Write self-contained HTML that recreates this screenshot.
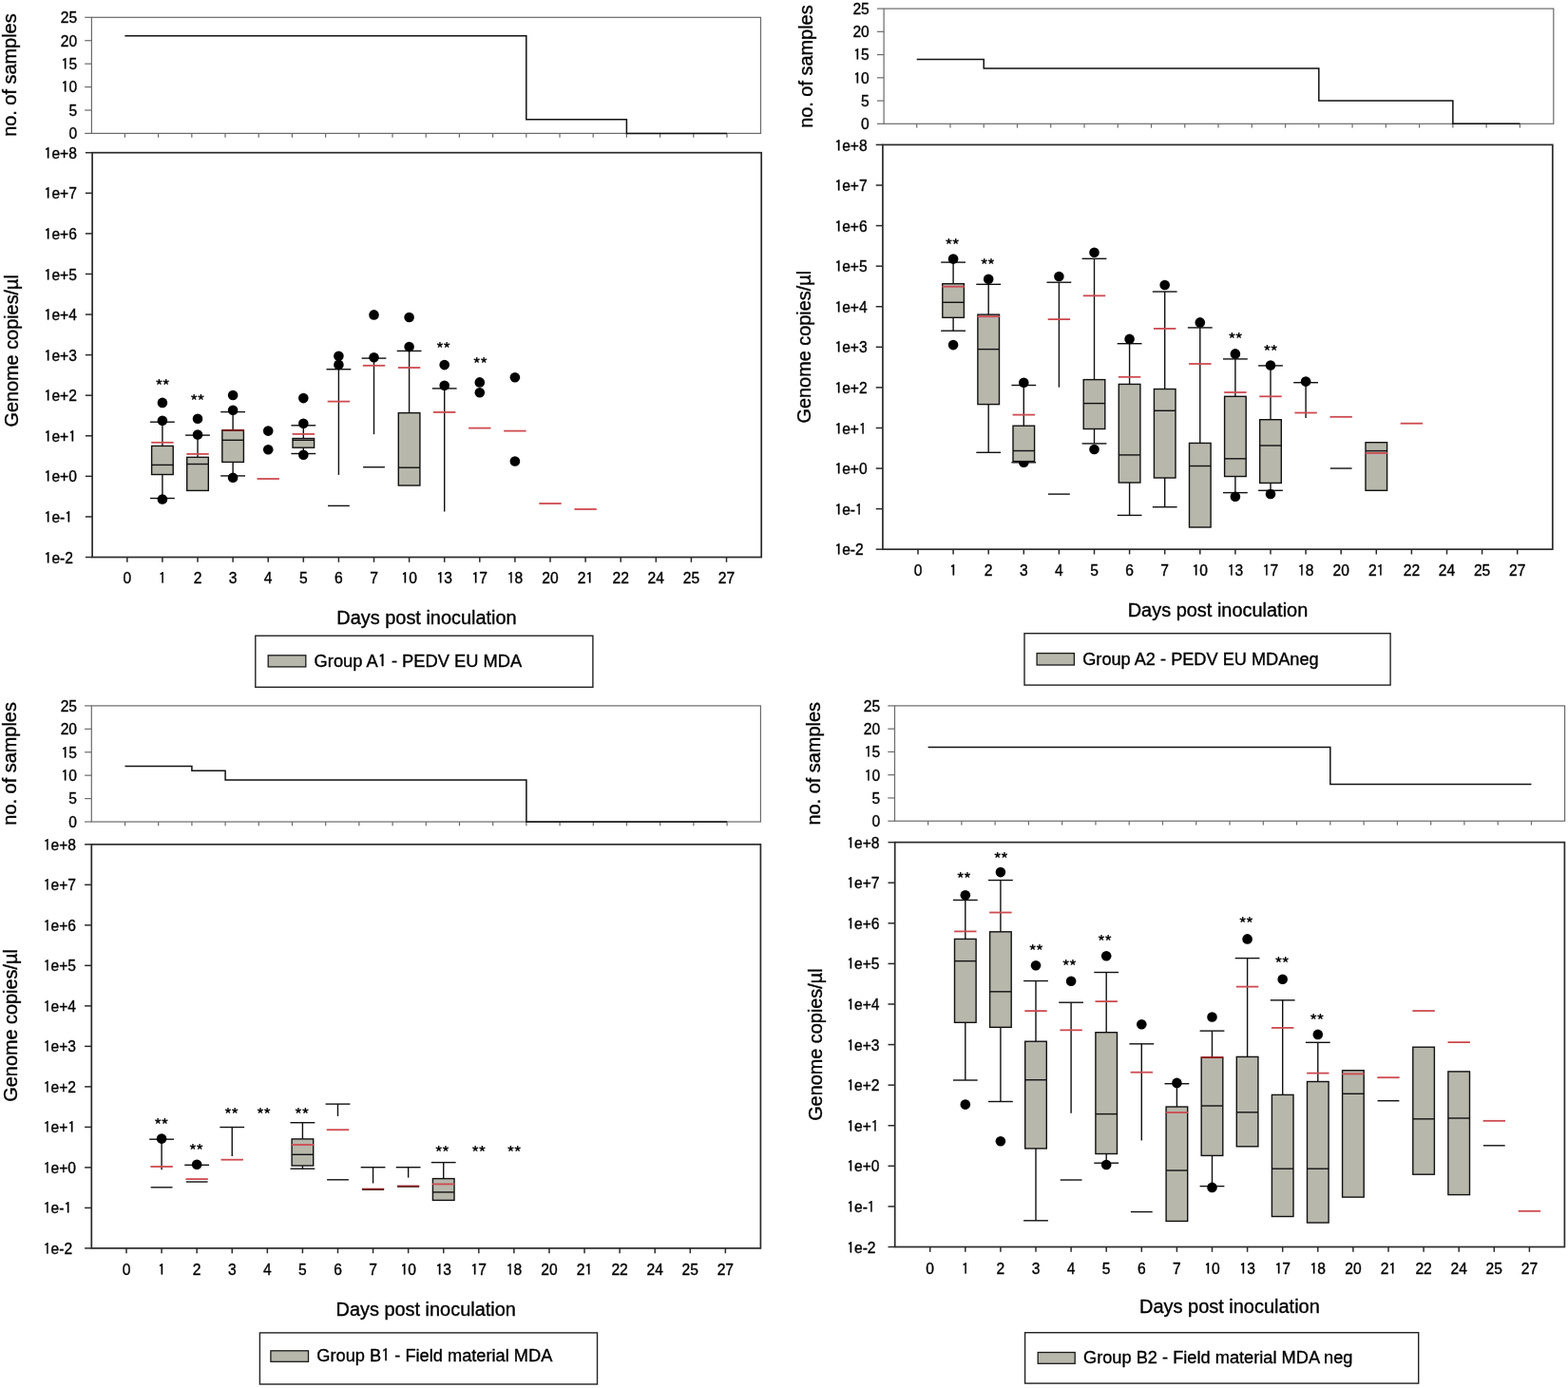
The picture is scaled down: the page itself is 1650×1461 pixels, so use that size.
<!DOCTYPE html>
<html><head><meta charset="utf-8"><title>PEDV genome copies</title>
<style>html,body{margin:0;padding:0;background:#fff;} svg{display:block;} text{font-family:'Liberation Sans', Arial, sans-serif;fill:#000;stroke:#000;stroke-width:0.35px;} .o{font-family:IPAGothic,'Liberation Sans',sans-serif;} .st{font-family:'Noto Sans CJK JP','Liberation Sans',sans-serif;letter-spacing:-1.1px;stroke-width:0.25px;}</style>
</head><body>
<svg width="1650" height="1461" viewBox="0 0 1650 1461">
<rect width="1650" height="1461" fill="#fff"/>
<rect x="96.4" y="18.3" width="704.1" height="122.1" fill="none" stroke="#6a6a6a" stroke-width="1.2"/>
<line x1="89.2" y1="140.4" x2="96.4" y2="140.4" stroke="#6a6a6a" stroke-width="1.2"/>
<text x="81.1" y="146.3" font-size="15.6" text-anchor="end" >0</text>
<line x1="89.2" y1="115.98" x2="96.4" y2="115.98" stroke="#6a6a6a" stroke-width="1.2"/>
<text x="81.1" y="121.88" font-size="15.6" text-anchor="end" >5</text>
<line x1="89.2" y1="91.56" x2="96.4" y2="91.56" stroke="#6a6a6a" stroke-width="1.2"/>
<text x="81.1" y="97.46" font-size="15.6" text-anchor="end" ><tspan class="o">1</tspan>0</text>
<line x1="89.2" y1="67.14" x2="96.4" y2="67.14" stroke="#6a6a6a" stroke-width="1.2"/>
<text x="81.1" y="73.04" font-size="15.6" text-anchor="end" ><tspan class="o">1</tspan>5</text>
<line x1="89.2" y1="42.72" x2="96.4" y2="42.72" stroke="#6a6a6a" stroke-width="1.2"/>
<text x="81.1" y="48.62" font-size="15.6" text-anchor="end" >20</text>
<line x1="89.2" y1="18.3" x2="96.4" y2="18.3" stroke="#6a6a6a" stroke-width="1.2"/>
<text x="81.1" y="24.2" font-size="15.6" text-anchor="end" >25</text>
<line x1="131.4" y1="140.4" x2="131.4" y2="144.7" stroke="#6a6a6a" stroke-width="1.2"/>
<line x1="166.6" y1="140.4" x2="166.6" y2="144.7" stroke="#6a6a6a" stroke-width="1.2"/>
<line x1="201.8" y1="140.4" x2="201.8" y2="144.7" stroke="#6a6a6a" stroke-width="1.2"/>
<line x1="237" y1="140.4" x2="237" y2="144.7" stroke="#6a6a6a" stroke-width="1.2"/>
<line x1="272.2" y1="140.4" x2="272.2" y2="144.7" stroke="#6a6a6a" stroke-width="1.2"/>
<line x1="307.4" y1="140.4" x2="307.4" y2="144.7" stroke="#6a6a6a" stroke-width="1.2"/>
<line x1="342.6" y1="140.4" x2="342.6" y2="144.7" stroke="#6a6a6a" stroke-width="1.2"/>
<line x1="377.8" y1="140.4" x2="377.8" y2="144.7" stroke="#6a6a6a" stroke-width="1.2"/>
<line x1="413" y1="140.4" x2="413" y2="144.7" stroke="#6a6a6a" stroke-width="1.2"/>
<line x1="448.2" y1="140.4" x2="448.2" y2="144.7" stroke="#6a6a6a" stroke-width="1.2"/>
<line x1="483.4" y1="140.4" x2="483.4" y2="144.7" stroke="#6a6a6a" stroke-width="1.2"/>
<line x1="518.6" y1="140.4" x2="518.6" y2="144.7" stroke="#6a6a6a" stroke-width="1.2"/>
<line x1="553.8" y1="140.4" x2="553.8" y2="144.7" stroke="#6a6a6a" stroke-width="1.2"/>
<line x1="589" y1="140.4" x2="589" y2="144.7" stroke="#6a6a6a" stroke-width="1.2"/>
<line x1="624.2" y1="140.4" x2="624.2" y2="144.7" stroke="#6a6a6a" stroke-width="1.2"/>
<line x1="659.4" y1="140.4" x2="659.4" y2="144.7" stroke="#6a6a6a" stroke-width="1.2"/>
<line x1="694.6" y1="140.4" x2="694.6" y2="144.7" stroke="#6a6a6a" stroke-width="1.2"/>
<line x1="729.8" y1="140.4" x2="729.8" y2="144.7" stroke="#6a6a6a" stroke-width="1.2"/>
<line x1="765" y1="140.4" x2="765" y2="144.7" stroke="#6a6a6a" stroke-width="1.2"/>
<path d="M131.4,37.84 L553.8,37.84 L553.8,125.75 L659.4,125.75 L659.4,140.4 L765,140.4" fill="none" stroke="#111" stroke-width="1.5"/>
<text transform="translate(17.25,79.1) rotate(-90)" font-size="19.5" text-anchor="middle" textLength="129.5" lengthAdjust="spacingAndGlyphs">no. of samples</text>
<rect x="97.1" y="160.7" width="704.1" height="425.8" fill="none" stroke="#2a2a2a" stroke-width="1.7"/>
<line x1="89.9" y1="160.7" x2="97.1" y2="160.7" stroke="#2a2a2a" stroke-width="1.5"/>
<text x="46.6" y="166.8" font-size="15.6" text-anchor="start" ><tspan class="o">1</tspan>e+8</text>
<line x1="89.9" y1="203.28" x2="97.1" y2="203.28" stroke="#2a2a2a" stroke-width="1.5"/>
<text x="46.6" y="209.38" font-size="15.6" text-anchor="start" ><tspan class="o">1</tspan>e+7</text>
<line x1="89.9" y1="245.86" x2="97.1" y2="245.86" stroke="#2a2a2a" stroke-width="1.5"/>
<text x="46.6" y="251.96" font-size="15.6" text-anchor="start" ><tspan class="o">1</tspan>e+6</text>
<line x1="89.9" y1="288.44" x2="97.1" y2="288.44" stroke="#2a2a2a" stroke-width="1.5"/>
<text x="46.6" y="294.54" font-size="15.6" text-anchor="start" ><tspan class="o">1</tspan>e+5</text>
<line x1="89.9" y1="331.02" x2="97.1" y2="331.02" stroke="#2a2a2a" stroke-width="1.5"/>
<text x="46.6" y="337.12" font-size="15.6" text-anchor="start" ><tspan class="o">1</tspan>e+4</text>
<line x1="89.9" y1="373.6" x2="97.1" y2="373.6" stroke="#2a2a2a" stroke-width="1.5"/>
<text x="46.6" y="379.7" font-size="15.6" text-anchor="start" ><tspan class="o">1</tspan>e+3</text>
<line x1="89.9" y1="416.18" x2="97.1" y2="416.18" stroke="#2a2a2a" stroke-width="1.5"/>
<text x="46.6" y="422.28" font-size="15.6" text-anchor="start" ><tspan class="o">1</tspan>e+2</text>
<line x1="89.9" y1="458.76" x2="97.1" y2="458.76" stroke="#2a2a2a" stroke-width="1.5"/>
<text x="46.6" y="464.86" font-size="15.6" text-anchor="start" ><tspan class="o">1</tspan>e+<tspan class="o">1</tspan></text>
<line x1="89.9" y1="501.34" x2="97.1" y2="501.34" stroke="#2a2a2a" stroke-width="1.5"/>
<text x="46.6" y="507.44" font-size="15.6" text-anchor="start" ><tspan class="o">1</tspan>e+0</text>
<line x1="89.9" y1="543.92" x2="97.1" y2="543.92" stroke="#2a2a2a" stroke-width="1.5"/>
<text x="46.6" y="550.02" font-size="15.6" text-anchor="start" ><tspan class="o">1</tspan>e-<tspan class="o">1</tspan></text>
<line x1="89.9" y1="586.5" x2="97.1" y2="586.5" stroke="#2a2a2a" stroke-width="1.5"/>
<text x="46.6" y="592.6" font-size="15.6" text-anchor="start" ><tspan class="o">1</tspan>e-2</text>
<line x1="133.8" y1="586.5" x2="133.8" y2="591.8" stroke="#2a2a2a" stroke-width="1.5"/>
<text x="133.8" y="613.6" font-size="15.6" text-anchor="middle" >0</text>
<line x1="170.9" y1="586.5" x2="170.9" y2="591.8" stroke="#2a2a2a" stroke-width="1.5"/>
<text x="170.9" y="613.6" font-size="15.6" text-anchor="middle" ><tspan class="o">1</tspan></text>
<line x1="208" y1="586.5" x2="208" y2="591.8" stroke="#2a2a2a" stroke-width="1.5"/>
<text x="208" y="613.6" font-size="15.6" text-anchor="middle" >2</text>
<line x1="245.1" y1="586.5" x2="245.1" y2="591.8" stroke="#2a2a2a" stroke-width="1.5"/>
<text x="245.1" y="613.6" font-size="15.6" text-anchor="middle" >3</text>
<line x1="282.2" y1="586.5" x2="282.2" y2="591.8" stroke="#2a2a2a" stroke-width="1.5"/>
<text x="282.2" y="613.6" font-size="15.6" text-anchor="middle" >4</text>
<line x1="319.3" y1="586.5" x2="319.3" y2="591.8" stroke="#2a2a2a" stroke-width="1.5"/>
<text x="319.3" y="613.6" font-size="15.6" text-anchor="middle" >5</text>
<line x1="356.4" y1="586.5" x2="356.4" y2="591.8" stroke="#2a2a2a" stroke-width="1.5"/>
<text x="356.4" y="613.6" font-size="15.6" text-anchor="middle" >6</text>
<line x1="393.5" y1="586.5" x2="393.5" y2="591.8" stroke="#2a2a2a" stroke-width="1.5"/>
<text x="393.5" y="613.6" font-size="15.6" text-anchor="middle" >7</text>
<line x1="430.6" y1="586.5" x2="430.6" y2="591.8" stroke="#2a2a2a" stroke-width="1.5"/>
<text x="430.6" y="613.6" font-size="15.6" text-anchor="middle" ><tspan class="o">1</tspan>0</text>
<line x1="467.7" y1="586.5" x2="467.7" y2="591.8" stroke="#2a2a2a" stroke-width="1.5"/>
<text x="467.7" y="613.6" font-size="15.6" text-anchor="middle" ><tspan class="o">1</tspan>3</text>
<line x1="504.8" y1="586.5" x2="504.8" y2="591.8" stroke="#2a2a2a" stroke-width="1.5"/>
<text x="504.8" y="613.6" font-size="15.6" text-anchor="middle" ><tspan class="o">1</tspan>7</text>
<line x1="541.9" y1="586.5" x2="541.9" y2="591.8" stroke="#2a2a2a" stroke-width="1.5"/>
<text x="541.9" y="613.6" font-size="15.6" text-anchor="middle" ><tspan class="o">1</tspan>8</text>
<line x1="579" y1="586.5" x2="579" y2="591.8" stroke="#2a2a2a" stroke-width="1.5"/>
<text x="579" y="613.6" font-size="15.6" text-anchor="middle" >20</text>
<line x1="616.1" y1="586.5" x2="616.1" y2="591.8" stroke="#2a2a2a" stroke-width="1.5"/>
<text x="616.1" y="613.6" font-size="15.6" text-anchor="middle" >2<tspan class="o">1</tspan></text>
<line x1="653.2" y1="586.5" x2="653.2" y2="591.8" stroke="#2a2a2a" stroke-width="1.5"/>
<text x="653.2" y="613.6" font-size="15.6" text-anchor="middle" >22</text>
<line x1="690.3" y1="586.5" x2="690.3" y2="591.8" stroke="#2a2a2a" stroke-width="1.5"/>
<text x="690.3" y="613.6" font-size="15.6" text-anchor="middle" >24</text>
<line x1="727.4" y1="586.5" x2="727.4" y2="591.8" stroke="#2a2a2a" stroke-width="1.5"/>
<text x="727.4" y="613.6" font-size="15.6" text-anchor="middle" >25</text>
<line x1="764.5" y1="586.5" x2="764.5" y2="591.8" stroke="#2a2a2a" stroke-width="1.5"/>
<text x="764.5" y="613.6" font-size="15.6" text-anchor="middle" >27</text>
<text transform="translate(19,369.3) rotate(-90)" font-size="19.5" text-anchor="middle" textLength="160.5" lengthAdjust="spacingAndGlyphs">Genome copies/µl</text>
<text x="354.3" y="656.5" font-size="19.5" textLength="189.4" lengthAdjust="spacingAndGlyphs">Days post inoculation</text>
<rect x="268.8" y="669.2" width="355.1" height="54.1" fill="none" stroke="#222" stroke-width="1.4"/>
<rect x="282.2" y="689.8" width="39.6" height="12.1" fill="#b7b7ac" stroke="#1a1a1a" stroke-width="1.3"/>
<text x="330.6" y="702.2" font-size="18" textLength="218.5" lengthAdjust="spacingAndGlyphs">Group A<tspan class="o">1</tspan> - PEDV EU MDA</text>
<line x1="170.9" y1="444.2" x2="170.9" y2="469.4" stroke="#111" stroke-width="1.4"/>
<line x1="170.9" y1="499.5" x2="170.9" y2="524.5" stroke="#111" stroke-width="1.4"/>
<line x1="208" y1="458.1" x2="208" y2="481.3" stroke="#111" stroke-width="1.4"/>
<line x1="245.1" y1="433.6" x2="245.1" y2="452.8" stroke="#111" stroke-width="1.4"/>
<line x1="245.1" y1="486.4" x2="245.1" y2="500.9" stroke="#111" stroke-width="1.4"/>
<line x1="319.3" y1="447.8" x2="319.3" y2="461.5" stroke="#111" stroke-width="1.4"/>
<line x1="319.3" y1="471.2" x2="319.3" y2="477.5" stroke="#111" stroke-width="1.4"/>
<line x1="356.4" y1="388.7" x2="356.4" y2="499.9" stroke="#111" stroke-width="1.4"/>
<line x1="393.5" y1="377.1" x2="393.5" y2="457.1" stroke="#111" stroke-width="1.4"/>
<line x1="430.6" y1="369.4" x2="430.6" y2="434.6" stroke="#111" stroke-width="1.4"/>
<line x1="467.7" y1="408.9" x2="467.7" y2="538.4" stroke="#111" stroke-width="1.4"/>
<line x1="158" y1="444.2" x2="183.8" y2="444.2" stroke="#111" stroke-width="1.4"/>
<line x1="158" y1="524.5" x2="183.8" y2="524.5" stroke="#111" stroke-width="1.4"/>
<line x1="195.1" y1="458.1" x2="220.9" y2="458.1" stroke="#111" stroke-width="1.4"/>
<line x1="232.2" y1="433.6" x2="258" y2="433.6" stroke="#111" stroke-width="1.4"/>
<line x1="232.2" y1="500.9" x2="258" y2="500.9" stroke="#111" stroke-width="1.4"/>
<line x1="306.4" y1="447.8" x2="332.2" y2="447.8" stroke="#111" stroke-width="1.4"/>
<line x1="306.4" y1="477.5" x2="332.2" y2="477.5" stroke="#111" stroke-width="1.4"/>
<line x1="343.5" y1="388.7" x2="369.3" y2="388.7" stroke="#111" stroke-width="1.4"/>
<line x1="380.6" y1="377.1" x2="406.4" y2="377.1" stroke="#111" stroke-width="1.4"/>
<line x1="417.7" y1="369.4" x2="443.5" y2="369.4" stroke="#111" stroke-width="1.4"/>
<line x1="454.8" y1="408.9" x2="480.6" y2="408.9" stroke="#111" stroke-width="1.4"/>
<circle cx="170.9" cy="423.9" r="5.3" fill="#000"/>
<circle cx="170.9" cy="442.7" r="5.3" fill="#000"/>
<circle cx="170.9" cy="525.5" r="5.3" fill="#000"/>
<circle cx="208" cy="440.7" r="5.3" fill="#000"/>
<circle cx="208" cy="457.5" r="5.3" fill="#000"/>
<circle cx="245.1" cy="416" r="5.3" fill="#000"/>
<circle cx="245.1" cy="431.8" r="5.3" fill="#000"/>
<circle cx="245.1" cy="502.7" r="5.3" fill="#000"/>
<circle cx="282.2" cy="453.6" r="5.3" fill="#000"/>
<circle cx="282.2" cy="473.3" r="5.3" fill="#000"/>
<circle cx="319.3" cy="419.1" r="5.3" fill="#000"/>
<circle cx="319.3" cy="445.8" r="5.3" fill="#000"/>
<circle cx="319.3" cy="478.8" r="5.3" fill="#000"/>
<circle cx="356.4" cy="374.7" r="5.3" fill="#000"/>
<circle cx="356.4" cy="383.9" r="5.3" fill="#000"/>
<circle cx="393.5" cy="331.4" r="5.3" fill="#000"/>
<circle cx="393.5" cy="376.2" r="5.3" fill="#000"/>
<circle cx="430.6" cy="334" r="5.3" fill="#000"/>
<circle cx="430.6" cy="365.1" r="5.3" fill="#000"/>
<circle cx="467.7" cy="384.1" r="5.3" fill="#000"/>
<circle cx="467.7" cy="405.8" r="5.3" fill="#000"/>
<circle cx="504.8" cy="402.4" r="5.3" fill="#000"/>
<circle cx="504.8" cy="413.2" r="5.3" fill="#000"/>
<circle cx="541.9" cy="397.3" r="5.3" fill="#000"/>
<circle cx="541.9" cy="485.5" r="5.3" fill="#000"/>
<rect x="159.6" y="469.4" width="22.6" height="30.1" fill="#b7b7ac" stroke="#111" stroke-width="1.4"/>
<line x1="159.6" y1="489.4" x2="182.2" y2="489.4" stroke="#111" stroke-width="1.4"/>
<rect x="196.7" y="481.3" width="22.6" height="35.1" fill="#b7b7ac" stroke="#111" stroke-width="1.4"/>
<line x1="196.7" y1="488.5" x2="219.3" y2="488.5" stroke="#111" stroke-width="1.4"/>
<rect x="233.8" y="452.8" width="22.6" height="33.6" fill="#b7b7ac" stroke="#111" stroke-width="1.4"/>
<line x1="233.8" y1="463.3" x2="256.4" y2="463.3" stroke="#111" stroke-width="1.4"/>
<rect x="308" y="461.5" width="22.6" height="9.7" fill="#b7b7ac" stroke="#111" stroke-width="1.4"/>
<line x1="308" y1="463.3" x2="330.6" y2="463.3" stroke="#111" stroke-width="1.4"/>
<rect x="419.3" y="434.6" width="22.6" height="76.4" fill="#b7b7ac" stroke="#111" stroke-width="1.4"/>
<line x1="419.3" y1="492.2" x2="441.9" y2="492.2" stroke="#111" stroke-width="1.4"/>
<line x1="345" y1="532.4" x2="367.8" y2="532.4" stroke="#111" stroke-width="1.4"/>
<line x1="382.1" y1="491.7" x2="404.9" y2="491.7" stroke="#111" stroke-width="1.4"/>
<line x1="159.2" y1="465.8" x2="182.6" y2="465.8" stroke="#cd4a50" stroke-width="1.8"/>
<line x1="196.3" y1="477.9" x2="219.7" y2="477.9" stroke="#cd4a50" stroke-width="1.8"/>
<line x1="233.4" y1="452.8" x2="256.8" y2="452.8" stroke="#7a1616" stroke-width="1.8"/>
<line x1="270.5" y1="504" x2="293.9" y2="504" stroke="#cd4a50" stroke-width="1.8"/>
<line x1="307.6" y1="456.9" x2="331" y2="456.9" stroke="#cd4a50" stroke-width="1.8"/>
<line x1="344.7" y1="422.6" x2="368.1" y2="422.6" stroke="#cd4a50" stroke-width="1.8"/>
<line x1="381.8" y1="384.8" x2="405.2" y2="384.8" stroke="#cd4a50" stroke-width="1.8"/>
<line x1="418.9" y1="387" x2="442.3" y2="387" stroke="#cd4a50" stroke-width="1.8"/>
<line x1="456" y1="433.9" x2="479.4" y2="433.9" stroke="#cd4a50" stroke-width="1.8"/>
<line x1="493.1" y1="450.6" x2="516.5" y2="450.6" stroke="#cd4a50" stroke-width="1.8"/>
<line x1="530.2" y1="453.6" x2="553.6" y2="453.6" stroke="#cd4a50" stroke-width="1.8"/>
<line x1="567.3" y1="530" x2="590.7" y2="530" stroke="#cd4a50" stroke-width="1.8"/>
<line x1="604.4" y1="536" x2="627.8" y2="536" stroke="#cd4a50" stroke-width="1.8"/>
<text x="170.52" y="413.29" font-size="18" text-anchor="middle" class="st">**</text>
<text x="207.27" y="429.09" font-size="18" text-anchor="middle" class="st">**</text>
<text x="465.97" y="374.29" font-size="18" text-anchor="middle" class="st">**</text>
<text x="504.92" y="390.29" font-size="18" text-anchor="middle" class="st">**</text>
<rect x="930.1" y="9.1" width="704.7" height="121.2" fill="none" stroke="#6a6a6a" stroke-width="1.2"/>
<line x1="922.9" y1="130.3" x2="930.1" y2="130.3" stroke="#6a6a6a" stroke-width="1.2"/>
<text x="914.8" y="136.2" font-size="15.6" text-anchor="end" >0</text>
<line x1="922.9" y1="106.06" x2="930.1" y2="106.06" stroke="#6a6a6a" stroke-width="1.2"/>
<text x="914.8" y="111.96" font-size="15.6" text-anchor="end" >5</text>
<line x1="922.9" y1="81.82" x2="930.1" y2="81.82" stroke="#6a6a6a" stroke-width="1.2"/>
<text x="914.8" y="87.72" font-size="15.6" text-anchor="end" ><tspan class="o">1</tspan>0</text>
<line x1="922.9" y1="57.58" x2="930.1" y2="57.58" stroke="#6a6a6a" stroke-width="1.2"/>
<text x="914.8" y="63.48" font-size="15.6" text-anchor="end" ><tspan class="o">1</tspan>5</text>
<line x1="922.9" y1="33.34" x2="930.1" y2="33.34" stroke="#6a6a6a" stroke-width="1.2"/>
<text x="914.8" y="39.24" font-size="15.6" text-anchor="end" >20</text>
<line x1="922.9" y1="9.1" x2="930.1" y2="9.1" stroke="#6a6a6a" stroke-width="1.2"/>
<text x="914.8" y="15" font-size="15.6" text-anchor="end" >25</text>
<line x1="964.7" y1="130.3" x2="964.7" y2="134.6" stroke="#6a6a6a" stroke-width="1.2"/>
<line x1="999.96" y1="130.3" x2="999.96" y2="134.6" stroke="#6a6a6a" stroke-width="1.2"/>
<line x1="1035.22" y1="130.3" x2="1035.22" y2="134.6" stroke="#6a6a6a" stroke-width="1.2"/>
<line x1="1070.48" y1="130.3" x2="1070.48" y2="134.6" stroke="#6a6a6a" stroke-width="1.2"/>
<line x1="1105.74" y1="130.3" x2="1105.74" y2="134.6" stroke="#6a6a6a" stroke-width="1.2"/>
<line x1="1141" y1="130.3" x2="1141" y2="134.6" stroke="#6a6a6a" stroke-width="1.2"/>
<line x1="1176.26" y1="130.3" x2="1176.26" y2="134.6" stroke="#6a6a6a" stroke-width="1.2"/>
<line x1="1211.52" y1="130.3" x2="1211.52" y2="134.6" stroke="#6a6a6a" stroke-width="1.2"/>
<line x1="1246.78" y1="130.3" x2="1246.78" y2="134.6" stroke="#6a6a6a" stroke-width="1.2"/>
<line x1="1282.04" y1="130.3" x2="1282.04" y2="134.6" stroke="#6a6a6a" stroke-width="1.2"/>
<line x1="1317.3" y1="130.3" x2="1317.3" y2="134.6" stroke="#6a6a6a" stroke-width="1.2"/>
<line x1="1352.56" y1="130.3" x2="1352.56" y2="134.6" stroke="#6a6a6a" stroke-width="1.2"/>
<line x1="1387.82" y1="130.3" x2="1387.82" y2="134.6" stroke="#6a6a6a" stroke-width="1.2"/>
<line x1="1423.08" y1="130.3" x2="1423.08" y2="134.6" stroke="#6a6a6a" stroke-width="1.2"/>
<line x1="1458.34" y1="130.3" x2="1458.34" y2="134.6" stroke="#6a6a6a" stroke-width="1.2"/>
<line x1="1493.6" y1="130.3" x2="1493.6" y2="134.6" stroke="#6a6a6a" stroke-width="1.2"/>
<line x1="1528.86" y1="130.3" x2="1528.86" y2="134.6" stroke="#6a6a6a" stroke-width="1.2"/>
<line x1="1564.12" y1="130.3" x2="1564.12" y2="134.6" stroke="#6a6a6a" stroke-width="1.2"/>
<line x1="1599.38" y1="130.3" x2="1599.38" y2="134.6" stroke="#6a6a6a" stroke-width="1.2"/>
<path d="M964.7,62.43 L1035.22,62.43 L1035.22,72.12 L1387.82,72.12 L1387.82,106.06 L1528.86,106.06 L1528.86,130.3 L1599.38,130.3" fill="none" stroke="#111" stroke-width="1.5"/>
<text transform="translate(854.5,70.1) rotate(-90)" font-size="19.5" text-anchor="middle" textLength="129.5" lengthAdjust="spacingAndGlyphs">no. of samples</text>
<rect x="928.9" y="152.4" width="704.9" height="425.8" fill="none" stroke="#2a2a2a" stroke-width="1.7"/>
<line x1="921.7" y1="152.4" x2="928.9" y2="152.4" stroke="#2a2a2a" stroke-width="1.5"/>
<text x="878.4" y="158.5" font-size="15.6" text-anchor="start" ><tspan class="o">1</tspan>e+8</text>
<line x1="921.7" y1="194.98" x2="928.9" y2="194.98" stroke="#2a2a2a" stroke-width="1.5"/>
<text x="878.4" y="201.08" font-size="15.6" text-anchor="start" ><tspan class="o">1</tspan>e+7</text>
<line x1="921.7" y1="237.56" x2="928.9" y2="237.56" stroke="#2a2a2a" stroke-width="1.5"/>
<text x="878.4" y="243.66" font-size="15.6" text-anchor="start" ><tspan class="o">1</tspan>e+6</text>
<line x1="921.7" y1="280.14" x2="928.9" y2="280.14" stroke="#2a2a2a" stroke-width="1.5"/>
<text x="878.4" y="286.24" font-size="15.6" text-anchor="start" ><tspan class="o">1</tspan>e+5</text>
<line x1="921.7" y1="322.72" x2="928.9" y2="322.72" stroke="#2a2a2a" stroke-width="1.5"/>
<text x="878.4" y="328.82" font-size="15.6" text-anchor="start" ><tspan class="o">1</tspan>e+4</text>
<line x1="921.7" y1="365.3" x2="928.9" y2="365.3" stroke="#2a2a2a" stroke-width="1.5"/>
<text x="878.4" y="371.4" font-size="15.6" text-anchor="start" ><tspan class="o">1</tspan>e+3</text>
<line x1="921.7" y1="407.88" x2="928.9" y2="407.88" stroke="#2a2a2a" stroke-width="1.5"/>
<text x="878.4" y="413.98" font-size="15.6" text-anchor="start" ><tspan class="o">1</tspan>e+2</text>
<line x1="921.7" y1="450.46" x2="928.9" y2="450.46" stroke="#2a2a2a" stroke-width="1.5"/>
<text x="878.4" y="456.56" font-size="15.6" text-anchor="start" ><tspan class="o">1</tspan>e+<tspan class="o">1</tspan></text>
<line x1="921.7" y1="493.04" x2="928.9" y2="493.04" stroke="#2a2a2a" stroke-width="1.5"/>
<text x="878.4" y="499.14" font-size="15.6" text-anchor="start" ><tspan class="o">1</tspan>e+0</text>
<line x1="921.7" y1="535.62" x2="928.9" y2="535.62" stroke="#2a2a2a" stroke-width="1.5"/>
<text x="878.4" y="541.72" font-size="15.6" text-anchor="start" ><tspan class="o">1</tspan>e-<tspan class="o">1</tspan></text>
<line x1="921.7" y1="578.2" x2="928.9" y2="578.2" stroke="#2a2a2a" stroke-width="1.5"/>
<text x="878.4" y="584.3" font-size="15.6" text-anchor="start" ><tspan class="o">1</tspan>e-2</text>
<line x1="966" y1="578.2" x2="966" y2="583.5" stroke="#2a2a2a" stroke-width="1.5"/>
<text x="966" y="605.9" font-size="15.6" text-anchor="middle" >0</text>
<line x1="1003.1" y1="578.2" x2="1003.1" y2="583.5" stroke="#2a2a2a" stroke-width="1.5"/>
<text x="1003.1" y="605.9" font-size="15.6" text-anchor="middle" ><tspan class="o">1</tspan></text>
<line x1="1040.2" y1="578.2" x2="1040.2" y2="583.5" stroke="#2a2a2a" stroke-width="1.5"/>
<text x="1040.2" y="605.9" font-size="15.6" text-anchor="middle" >2</text>
<line x1="1077.3" y1="578.2" x2="1077.3" y2="583.5" stroke="#2a2a2a" stroke-width="1.5"/>
<text x="1077.3" y="605.9" font-size="15.6" text-anchor="middle" >3</text>
<line x1="1114.4" y1="578.2" x2="1114.4" y2="583.5" stroke="#2a2a2a" stroke-width="1.5"/>
<text x="1114.4" y="605.9" font-size="15.6" text-anchor="middle" >4</text>
<line x1="1151.5" y1="578.2" x2="1151.5" y2="583.5" stroke="#2a2a2a" stroke-width="1.5"/>
<text x="1151.5" y="605.9" font-size="15.6" text-anchor="middle" >5</text>
<line x1="1188.6" y1="578.2" x2="1188.6" y2="583.5" stroke="#2a2a2a" stroke-width="1.5"/>
<text x="1188.6" y="605.9" font-size="15.6" text-anchor="middle" >6</text>
<line x1="1225.7" y1="578.2" x2="1225.7" y2="583.5" stroke="#2a2a2a" stroke-width="1.5"/>
<text x="1225.7" y="605.9" font-size="15.6" text-anchor="middle" >7</text>
<line x1="1262.8" y1="578.2" x2="1262.8" y2="583.5" stroke="#2a2a2a" stroke-width="1.5"/>
<text x="1262.8" y="605.9" font-size="15.6" text-anchor="middle" ><tspan class="o">1</tspan>0</text>
<line x1="1299.9" y1="578.2" x2="1299.9" y2="583.5" stroke="#2a2a2a" stroke-width="1.5"/>
<text x="1299.9" y="605.9" font-size="15.6" text-anchor="middle" ><tspan class="o">1</tspan>3</text>
<line x1="1337" y1="578.2" x2="1337" y2="583.5" stroke="#2a2a2a" stroke-width="1.5"/>
<text x="1337" y="605.9" font-size="15.6" text-anchor="middle" ><tspan class="o">1</tspan>7</text>
<line x1="1374.1" y1="578.2" x2="1374.1" y2="583.5" stroke="#2a2a2a" stroke-width="1.5"/>
<text x="1374.1" y="605.9" font-size="15.6" text-anchor="middle" ><tspan class="o">1</tspan>8</text>
<line x1="1411.2" y1="578.2" x2="1411.2" y2="583.5" stroke="#2a2a2a" stroke-width="1.5"/>
<text x="1411.2" y="605.9" font-size="15.6" text-anchor="middle" >20</text>
<line x1="1448.3" y1="578.2" x2="1448.3" y2="583.5" stroke="#2a2a2a" stroke-width="1.5"/>
<text x="1448.3" y="605.9" font-size="15.6" text-anchor="middle" >2<tspan class="o">1</tspan></text>
<line x1="1485.4" y1="578.2" x2="1485.4" y2="583.5" stroke="#2a2a2a" stroke-width="1.5"/>
<text x="1485.4" y="605.9" font-size="15.6" text-anchor="middle" >22</text>
<line x1="1522.5" y1="578.2" x2="1522.5" y2="583.5" stroke="#2a2a2a" stroke-width="1.5"/>
<text x="1522.5" y="605.9" font-size="15.6" text-anchor="middle" >24</text>
<line x1="1559.6" y1="578.2" x2="1559.6" y2="583.5" stroke="#2a2a2a" stroke-width="1.5"/>
<text x="1559.6" y="605.9" font-size="15.6" text-anchor="middle" >25</text>
<line x1="1596.7" y1="578.2" x2="1596.7" y2="583.5" stroke="#2a2a2a" stroke-width="1.5"/>
<text x="1596.7" y="605.9" font-size="15.6" text-anchor="middle" >27</text>
<text transform="translate(852.5,365.2) rotate(-90)" font-size="19.5" text-anchor="middle" textLength="160.5" lengthAdjust="spacingAndGlyphs">Genome copies/µl</text>
<text x="1186.7" y="648.6" font-size="19.5" textLength="189.6" lengthAdjust="spacingAndGlyphs">Days post inoculation</text>
<rect x="1078" y="666.7" width="385.1" height="54.4" fill="none" stroke="#222" stroke-width="1.4"/>
<rect x="1091.1" y="687.6" width="39.3" height="12.4" fill="#b7b7ac" stroke="#1a1a1a" stroke-width="1.3"/>
<text x="1139.2" y="700" font-size="18" textLength="248.5" lengthAdjust="spacingAndGlyphs">Group A2 - PEDV EU MDAneg</text>
<line x1="1003.1" y1="276.1" x2="1003.1" y2="298.7" stroke="#111" stroke-width="1.4"/>
<line x1="1003.1" y1="334.3" x2="1003.1" y2="348.2" stroke="#111" stroke-width="1.4"/>
<line x1="1040.2" y1="299.3" x2="1040.2" y2="331.1" stroke="#111" stroke-width="1.4"/>
<line x1="1040.2" y1="425.6" x2="1040.2" y2="476.3" stroke="#111" stroke-width="1.4"/>
<line x1="1077.3" y1="405.5" x2="1077.3" y2="448.2" stroke="#111" stroke-width="1.4"/>
<line x1="1077.3" y1="485.6" x2="1077.3" y2="486.8" stroke="#111" stroke-width="1.4"/>
<line x1="1114.4" y1="297.2" x2="1114.4" y2="407.7" stroke="#111" stroke-width="1.4"/>
<line x1="1151.5" y1="272.3" x2="1151.5" y2="399.6" stroke="#111" stroke-width="1.4"/>
<line x1="1151.5" y1="451.5" x2="1151.5" y2="466.9" stroke="#111" stroke-width="1.4"/>
<line x1="1188.6" y1="361.7" x2="1188.6" y2="404.4" stroke="#111" stroke-width="1.4"/>
<line x1="1188.6" y1="508" x2="1188.6" y2="542.4" stroke="#111" stroke-width="1.4"/>
<line x1="1225.7" y1="307" x2="1225.7" y2="409.5" stroke="#111" stroke-width="1.4"/>
<line x1="1225.7" y1="503" x2="1225.7" y2="533.7" stroke="#111" stroke-width="1.4"/>
<line x1="1262.8" y1="344.9" x2="1262.8" y2="466.4" stroke="#111" stroke-width="1.4"/>
<line x1="1299.9" y1="377.9" x2="1299.9" y2="417.3" stroke="#111" stroke-width="1.4"/>
<line x1="1299.9" y1="501.5" x2="1299.9" y2="518.6" stroke="#111" stroke-width="1.4"/>
<line x1="1337" y1="384.9" x2="1337" y2="441.7" stroke="#111" stroke-width="1.4"/>
<line x1="1337" y1="508.4" x2="1337" y2="516.3" stroke="#111" stroke-width="1.4"/>
<line x1="1374.1" y1="402.7" x2="1374.1" y2="439.9" stroke="#111" stroke-width="1.4"/>
<line x1="990.2" y1="276.1" x2="1016" y2="276.1" stroke="#111" stroke-width="1.4"/>
<line x1="990.2" y1="348.2" x2="1016" y2="348.2" stroke="#111" stroke-width="1.4"/>
<line x1="1027.3" y1="299.3" x2="1053.1" y2="299.3" stroke="#111" stroke-width="1.4"/>
<line x1="1027.3" y1="476.3" x2="1053.1" y2="476.3" stroke="#111" stroke-width="1.4"/>
<line x1="1064.4" y1="405.5" x2="1090.2" y2="405.5" stroke="#111" stroke-width="1.4"/>
<line x1="1064.4" y1="486.8" x2="1090.2" y2="486.8" stroke="#111" stroke-width="1.4"/>
<line x1="1101.5" y1="297.2" x2="1127.3" y2="297.2" stroke="#111" stroke-width="1.4"/>
<line x1="1138.6" y1="272.3" x2="1164.4" y2="272.3" stroke="#111" stroke-width="1.4"/>
<line x1="1138.6" y1="466.9" x2="1164.4" y2="466.9" stroke="#111" stroke-width="1.4"/>
<line x1="1175.7" y1="361.7" x2="1201.5" y2="361.7" stroke="#111" stroke-width="1.4"/>
<line x1="1175.7" y1="542.4" x2="1201.5" y2="542.4" stroke="#111" stroke-width="1.4"/>
<line x1="1212.8" y1="307" x2="1238.6" y2="307" stroke="#111" stroke-width="1.4"/>
<line x1="1212.8" y1="533.7" x2="1238.6" y2="533.7" stroke="#111" stroke-width="1.4"/>
<line x1="1249.9" y1="344.9" x2="1275.7" y2="344.9" stroke="#111" stroke-width="1.4"/>
<line x1="1287" y1="377.9" x2="1312.8" y2="377.9" stroke="#111" stroke-width="1.4"/>
<line x1="1287" y1="518.6" x2="1312.8" y2="518.6" stroke="#111" stroke-width="1.4"/>
<line x1="1324.1" y1="384.9" x2="1349.9" y2="384.9" stroke="#111" stroke-width="1.4"/>
<line x1="1324.1" y1="516.3" x2="1349.9" y2="516.3" stroke="#111" stroke-width="1.4"/>
<line x1="1361.2" y1="402.7" x2="1387" y2="402.7" stroke="#111" stroke-width="1.4"/>
<circle cx="1003.1" cy="272.6" r="5.3" fill="#000"/>
<circle cx="1003.1" cy="363.1" r="5.3" fill="#000"/>
<circle cx="1040.2" cy="293.7" r="5.3" fill="#000"/>
<circle cx="1077.3" cy="402.8" r="5.3" fill="#000"/>
<circle cx="1077.3" cy="486.8" r="5.3" fill="#000"/>
<circle cx="1114.4" cy="291" r="5.3" fill="#000"/>
<circle cx="1151.5" cy="265.8" r="5.3" fill="#000"/>
<circle cx="1151.5" cy="473" r="5.3" fill="#000"/>
<circle cx="1188.6" cy="356.9" r="5.3" fill="#000"/>
<circle cx="1225.7" cy="300" r="5.3" fill="#000"/>
<circle cx="1262.8" cy="339.4" r="5.3" fill="#000"/>
<circle cx="1299.9" cy="372.4" r="5.3" fill="#000"/>
<circle cx="1299.9" cy="522.7" r="5.3" fill="#000"/>
<circle cx="1337" cy="384.5" r="5.3" fill="#000"/>
<circle cx="1337" cy="520" r="5.3" fill="#000"/>
<circle cx="1374.1" cy="401.6" r="5.3" fill="#000"/>
<rect x="991.8" y="298.7" width="22.6" height="35.6" fill="#b7b7ac" stroke="#111" stroke-width="1.4"/>
<line x1="991.8" y1="318.3" x2="1014.4" y2="318.3" stroke="#111" stroke-width="1.4"/>
<rect x="1028.9" y="331.1" width="22.6" height="94.5" fill="#b7b7ac" stroke="#111" stroke-width="1.4"/>
<line x1="1028.9" y1="367.6" x2="1051.5" y2="367.6" stroke="#111" stroke-width="1.4"/>
<rect x="1066" y="448.2" width="22.6" height="37.4" fill="#b7b7ac" stroke="#111" stroke-width="1.4"/>
<line x1="1066" y1="474.5" x2="1088.6" y2="474.5" stroke="#111" stroke-width="1.4"/>
<rect x="1140.2" y="399.6" width="22.6" height="51.9" fill="#b7b7ac" stroke="#111" stroke-width="1.4"/>
<line x1="1140.2" y1="424.6" x2="1162.8" y2="424.6" stroke="#111" stroke-width="1.4"/>
<rect x="1177.3" y="404.4" width="22.6" height="103.6" fill="#b7b7ac" stroke="#111" stroke-width="1.4"/>
<line x1="1177.3" y1="478.9" x2="1199.9" y2="478.9" stroke="#111" stroke-width="1.4"/>
<rect x="1214.4" y="409.5" width="22.6" height="93.5" fill="#b7b7ac" stroke="#111" stroke-width="1.4"/>
<line x1="1214.4" y1="432.3" x2="1237" y2="432.3" stroke="#111" stroke-width="1.4"/>
<rect x="1251.5" y="466.4" width="22.6" height="88.6" fill="#b7b7ac" stroke="#111" stroke-width="1.4"/>
<line x1="1251.5" y1="490.5" x2="1274.1" y2="490.5" stroke="#111" stroke-width="1.4"/>
<rect x="1288.6" y="417.3" width="22.6" height="84.2" fill="#b7b7ac" stroke="#111" stroke-width="1.4"/>
<line x1="1288.6" y1="482.8" x2="1311.2" y2="482.8" stroke="#111" stroke-width="1.4"/>
<rect x="1325.7" y="441.7" width="22.6" height="66.7" fill="#b7b7ac" stroke="#111" stroke-width="1.4"/>
<line x1="1325.7" y1="469" x2="1348.3" y2="469" stroke="#111" stroke-width="1.4"/>
<rect x="1437" y="465.7" width="22.6" height="50.6" fill="#b7b7ac" stroke="#111" stroke-width="1.4"/>
<line x1="1437" y1="474.6" x2="1459.6" y2="474.6" stroke="#111" stroke-width="1.4"/>
<line x1="1103" y1="520.1" x2="1125.8" y2="520.1" stroke="#111" stroke-width="1.4"/>
<line x1="1399.8" y1="493" x2="1422.6" y2="493" stroke="#111" stroke-width="1.4"/>
<line x1="991.4" y1="301.7" x2="1014.8" y2="301.7" stroke="#cd4a50" stroke-width="1.8"/>
<line x1="1028.5" y1="333.2" x2="1051.9" y2="333.2" stroke="#cd4a50" stroke-width="1.8"/>
<line x1="1065.6" y1="436.6" x2="1089" y2="436.6" stroke="#cd4a50" stroke-width="1.8"/>
<line x1="1102.7" y1="336.1" x2="1126.1" y2="336.1" stroke="#cd4a50" stroke-width="1.8"/>
<line x1="1139.8" y1="311.3" x2="1163.2" y2="311.3" stroke="#cd4a50" stroke-width="1.8"/>
<line x1="1176.9" y1="396.8" x2="1200.3" y2="396.8" stroke="#cd4a50" stroke-width="1.8"/>
<line x1="1214" y1="345.9" x2="1237.4" y2="345.9" stroke="#cd4a50" stroke-width="1.8"/>
<line x1="1251.1" y1="383" x2="1274.5" y2="383" stroke="#cd4a50" stroke-width="1.8"/>
<line x1="1288.2" y1="413" x2="1311.6" y2="413" stroke="#cd4a50" stroke-width="1.8"/>
<line x1="1325.3" y1="417.3" x2="1348.7" y2="417.3" stroke="#cd4a50" stroke-width="1.8"/>
<line x1="1362.4" y1="434.5" x2="1385.8" y2="434.5" stroke="#cd4a50" stroke-width="1.8"/>
<line x1="1399.5" y1="438.8" x2="1422.9" y2="438.8" stroke="#cd4a50" stroke-width="1.8"/>
<line x1="1436.6" y1="476.9" x2="1460" y2="476.9" stroke="#cd4a50" stroke-width="1.8"/>
<line x1="1473.7" y1="445.7" x2="1497.1" y2="445.7" stroke="#cd4a50" stroke-width="1.8"/>
<text x="1001.57" y="265.29" font-size="18" text-anchor="middle" class="st">**</text>
<text x="1038.87" y="286.29" font-size="18" text-anchor="middle" class="st">**</text>
<text x="1299.47" y="364.29" font-size="18" text-anchor="middle" class="st">**</text>
<text x="1336.47" y="377.29" font-size="18" text-anchor="middle" class="st">**</text>
<rect x="96.3" y="742.9" width="704.1" height="122.1" fill="none" stroke="#6a6a6a" stroke-width="1.2"/>
<line x1="89.1" y1="865" x2="96.3" y2="865" stroke="#6a6a6a" stroke-width="1.2"/>
<text x="81" y="870.9" font-size="15.6" text-anchor="end" >0</text>
<line x1="89.1" y1="840.58" x2="96.3" y2="840.58" stroke="#6a6a6a" stroke-width="1.2"/>
<text x="81" y="846.48" font-size="15.6" text-anchor="end" >5</text>
<line x1="89.1" y1="816.16" x2="96.3" y2="816.16" stroke="#6a6a6a" stroke-width="1.2"/>
<text x="81" y="822.06" font-size="15.6" text-anchor="end" ><tspan class="o">1</tspan>0</text>
<line x1="89.1" y1="791.74" x2="96.3" y2="791.74" stroke="#6a6a6a" stroke-width="1.2"/>
<text x="81" y="797.64" font-size="15.6" text-anchor="end" ><tspan class="o">1</tspan>5</text>
<line x1="89.1" y1="767.32" x2="96.3" y2="767.32" stroke="#6a6a6a" stroke-width="1.2"/>
<text x="81" y="773.22" font-size="15.6" text-anchor="end" >20</text>
<line x1="89.1" y1="742.9" x2="96.3" y2="742.9" stroke="#6a6a6a" stroke-width="1.2"/>
<text x="81" y="748.8" font-size="15.6" text-anchor="end" >25</text>
<line x1="131.5" y1="865" x2="131.5" y2="869.3" stroke="#6a6a6a" stroke-width="1.2"/>
<line x1="166.7" y1="865" x2="166.7" y2="869.3" stroke="#6a6a6a" stroke-width="1.2"/>
<line x1="201.9" y1="865" x2="201.9" y2="869.3" stroke="#6a6a6a" stroke-width="1.2"/>
<line x1="237.1" y1="865" x2="237.1" y2="869.3" stroke="#6a6a6a" stroke-width="1.2"/>
<line x1="272.3" y1="865" x2="272.3" y2="869.3" stroke="#6a6a6a" stroke-width="1.2"/>
<line x1="307.5" y1="865" x2="307.5" y2="869.3" stroke="#6a6a6a" stroke-width="1.2"/>
<line x1="342.7" y1="865" x2="342.7" y2="869.3" stroke="#6a6a6a" stroke-width="1.2"/>
<line x1="377.9" y1="865" x2="377.9" y2="869.3" stroke="#6a6a6a" stroke-width="1.2"/>
<line x1="413.1" y1="865" x2="413.1" y2="869.3" stroke="#6a6a6a" stroke-width="1.2"/>
<line x1="448.3" y1="865" x2="448.3" y2="869.3" stroke="#6a6a6a" stroke-width="1.2"/>
<line x1="483.5" y1="865" x2="483.5" y2="869.3" stroke="#6a6a6a" stroke-width="1.2"/>
<line x1="518.7" y1="865" x2="518.7" y2="869.3" stroke="#6a6a6a" stroke-width="1.2"/>
<line x1="553.9" y1="865" x2="553.9" y2="869.3" stroke="#6a6a6a" stroke-width="1.2"/>
<line x1="589.1" y1="865" x2="589.1" y2="869.3" stroke="#6a6a6a" stroke-width="1.2"/>
<line x1="624.3" y1="865" x2="624.3" y2="869.3" stroke="#6a6a6a" stroke-width="1.2"/>
<line x1="659.5" y1="865" x2="659.5" y2="869.3" stroke="#6a6a6a" stroke-width="1.2"/>
<line x1="694.7" y1="865" x2="694.7" y2="869.3" stroke="#6a6a6a" stroke-width="1.2"/>
<line x1="729.9" y1="865" x2="729.9" y2="869.3" stroke="#6a6a6a" stroke-width="1.2"/>
<line x1="765.1" y1="865" x2="765.1" y2="869.3" stroke="#6a6a6a" stroke-width="1.2"/>
<path d="M131.5,806.39 L201.9,806.39 L201.9,811.28 L237.1,811.28 L237.1,821.04 L553.9,821.04 L553.9,865 L765.1,865" fill="none" stroke="#111" stroke-width="1.5"/>
<text transform="translate(17.25,803.9) rotate(-90)" font-size="19.5" text-anchor="middle" textLength="129.5" lengthAdjust="spacingAndGlyphs">no. of samples</text>
<rect x="96.3" y="888.8" width="704.1" height="425.1" fill="none" stroke="#2a2a2a" stroke-width="1.7"/>
<line x1="89.1" y1="888.8" x2="96.3" y2="888.8" stroke="#2a2a2a" stroke-width="1.5"/>
<text x="45.8" y="894.9" font-size="15.6" text-anchor="start" ><tspan class="o">1</tspan>e+8</text>
<line x1="89.1" y1="931.31" x2="96.3" y2="931.31" stroke="#2a2a2a" stroke-width="1.5"/>
<text x="45.8" y="937.41" font-size="15.6" text-anchor="start" ><tspan class="o">1</tspan>e+7</text>
<line x1="89.1" y1="973.82" x2="96.3" y2="973.82" stroke="#2a2a2a" stroke-width="1.5"/>
<text x="45.8" y="979.92" font-size="15.6" text-anchor="start" ><tspan class="o">1</tspan>e+6</text>
<line x1="89.1" y1="1016.33" x2="96.3" y2="1016.33" stroke="#2a2a2a" stroke-width="1.5"/>
<text x="45.8" y="1022.43" font-size="15.6" text-anchor="start" ><tspan class="o">1</tspan>e+5</text>
<line x1="89.1" y1="1058.84" x2="96.3" y2="1058.84" stroke="#2a2a2a" stroke-width="1.5"/>
<text x="45.8" y="1064.94" font-size="15.6" text-anchor="start" ><tspan class="o">1</tspan>e+4</text>
<line x1="89.1" y1="1101.35" x2="96.3" y2="1101.35" stroke="#2a2a2a" stroke-width="1.5"/>
<text x="45.8" y="1107.45" font-size="15.6" text-anchor="start" ><tspan class="o">1</tspan>e+3</text>
<line x1="89.1" y1="1143.86" x2="96.3" y2="1143.86" stroke="#2a2a2a" stroke-width="1.5"/>
<text x="45.8" y="1149.96" font-size="15.6" text-anchor="start" ><tspan class="o">1</tspan>e+2</text>
<line x1="89.1" y1="1186.37" x2="96.3" y2="1186.37" stroke="#2a2a2a" stroke-width="1.5"/>
<text x="45.8" y="1192.47" font-size="15.6" text-anchor="start" ><tspan class="o">1</tspan>e+<tspan class="o">1</tspan></text>
<line x1="89.1" y1="1228.88" x2="96.3" y2="1228.88" stroke="#2a2a2a" stroke-width="1.5"/>
<text x="45.8" y="1234.98" font-size="15.6" text-anchor="start" ><tspan class="o">1</tspan>e+0</text>
<line x1="89.1" y1="1271.39" x2="96.3" y2="1271.39" stroke="#2a2a2a" stroke-width="1.5"/>
<text x="45.8" y="1277.49" font-size="15.6" text-anchor="start" ><tspan class="o">1</tspan>e-<tspan class="o">1</tspan></text>
<line x1="89.1" y1="1313.9" x2="96.3" y2="1313.9" stroke="#2a2a2a" stroke-width="1.5"/>
<text x="45.8" y="1320" font-size="15.6" text-anchor="start" ><tspan class="o">1</tspan>e-2</text>
<line x1="133" y1="1313.9" x2="133" y2="1319.2" stroke="#2a2a2a" stroke-width="1.5"/>
<text x="133" y="1341.9" font-size="15.6" text-anchor="middle" >0</text>
<line x1="170.08" y1="1313.9" x2="170.08" y2="1319.2" stroke="#2a2a2a" stroke-width="1.5"/>
<text x="170.08" y="1341.9" font-size="15.6" text-anchor="middle" ><tspan class="o">1</tspan></text>
<line x1="207.16" y1="1313.9" x2="207.16" y2="1319.2" stroke="#2a2a2a" stroke-width="1.5"/>
<text x="207.16" y="1341.9" font-size="15.6" text-anchor="middle" >2</text>
<line x1="244.24" y1="1313.9" x2="244.24" y2="1319.2" stroke="#2a2a2a" stroke-width="1.5"/>
<text x="244.24" y="1341.9" font-size="15.6" text-anchor="middle" >3</text>
<line x1="281.32" y1="1313.9" x2="281.32" y2="1319.2" stroke="#2a2a2a" stroke-width="1.5"/>
<text x="281.32" y="1341.9" font-size="15.6" text-anchor="middle" >4</text>
<line x1="318.4" y1="1313.9" x2="318.4" y2="1319.2" stroke="#2a2a2a" stroke-width="1.5"/>
<text x="318.4" y="1341.9" font-size="15.6" text-anchor="middle" >5</text>
<line x1="355.48" y1="1313.9" x2="355.48" y2="1319.2" stroke="#2a2a2a" stroke-width="1.5"/>
<text x="355.48" y="1341.9" font-size="15.6" text-anchor="middle" >6</text>
<line x1="392.56" y1="1313.9" x2="392.56" y2="1319.2" stroke="#2a2a2a" stroke-width="1.5"/>
<text x="392.56" y="1341.9" font-size="15.6" text-anchor="middle" >7</text>
<line x1="429.64" y1="1313.9" x2="429.64" y2="1319.2" stroke="#2a2a2a" stroke-width="1.5"/>
<text x="429.64" y="1341.9" font-size="15.6" text-anchor="middle" ><tspan class="o">1</tspan>0</text>
<line x1="466.72" y1="1313.9" x2="466.72" y2="1319.2" stroke="#2a2a2a" stroke-width="1.5"/>
<text x="466.72" y="1341.9" font-size="15.6" text-anchor="middle" ><tspan class="o">1</tspan>3</text>
<line x1="503.8" y1="1313.9" x2="503.8" y2="1319.2" stroke="#2a2a2a" stroke-width="1.5"/>
<text x="503.8" y="1341.9" font-size="15.6" text-anchor="middle" ><tspan class="o">1</tspan>7</text>
<line x1="540.88" y1="1313.9" x2="540.88" y2="1319.2" stroke="#2a2a2a" stroke-width="1.5"/>
<text x="540.88" y="1341.9" font-size="15.6" text-anchor="middle" ><tspan class="o">1</tspan>8</text>
<line x1="577.96" y1="1313.9" x2="577.96" y2="1319.2" stroke="#2a2a2a" stroke-width="1.5"/>
<text x="577.96" y="1341.9" font-size="15.6" text-anchor="middle" >20</text>
<line x1="615.04" y1="1313.9" x2="615.04" y2="1319.2" stroke="#2a2a2a" stroke-width="1.5"/>
<text x="615.04" y="1341.9" font-size="15.6" text-anchor="middle" >2<tspan class="o">1</tspan></text>
<line x1="652.12" y1="1313.9" x2="652.12" y2="1319.2" stroke="#2a2a2a" stroke-width="1.5"/>
<text x="652.12" y="1341.9" font-size="15.6" text-anchor="middle" >22</text>
<line x1="689.2" y1="1313.9" x2="689.2" y2="1319.2" stroke="#2a2a2a" stroke-width="1.5"/>
<text x="689.2" y="1341.9" font-size="15.6" text-anchor="middle" >24</text>
<line x1="726.28" y1="1313.9" x2="726.28" y2="1319.2" stroke="#2a2a2a" stroke-width="1.5"/>
<text x="726.28" y="1341.9" font-size="15.6" text-anchor="middle" >25</text>
<line x1="763.36" y1="1313.9" x2="763.36" y2="1319.2" stroke="#2a2a2a" stroke-width="1.5"/>
<text x="763.36" y="1341.9" font-size="15.6" text-anchor="middle" >27</text>
<text transform="translate(17.8,1079.4) rotate(-90)" font-size="19.5" text-anchor="middle" textLength="160.5" lengthAdjust="spacingAndGlyphs">Genome copies/µl</text>
<text x="353.6" y="1384.5" font-size="19.5" textLength="189.2" lengthAdjust="spacingAndGlyphs">Days post inoculation</text>
<rect x="273.4" y="1402.9" width="355.1" height="54.1" fill="none" stroke="#222" stroke-width="1.4"/>
<rect x="284.9" y="1421.8" width="39.6" height="11.5" fill="#b7b7ac" stroke="#1a1a1a" stroke-width="1.3"/>
<text x="333.3" y="1433.3" font-size="18" textLength="248" lengthAdjust="spacingAndGlyphs">Group B<tspan class="o">1</tspan> - Field material MDA</text>
<line x1="170.08" y1="1199.2" x2="170.08" y2="1231.3" stroke="#111" stroke-width="1.4"/>
<line x1="244.24" y1="1186.5" x2="244.24" y2="1217.1" stroke="#111" stroke-width="1.4"/>
<line x1="318.4" y1="1181.7" x2="318.4" y2="1198.9" stroke="#111" stroke-width="1.4"/>
<line x1="318.4" y1="1227" x2="318.4" y2="1230.2" stroke="#111" stroke-width="1.4"/>
<line x1="355.48" y1="1162.1" x2="355.48" y2="1174.9" stroke="#111" stroke-width="1.4"/>
<line x1="392.56" y1="1228.7" x2="392.56" y2="1245.5" stroke="#111" stroke-width="1.4"/>
<line x1="429.64" y1="1228.7" x2="429.64" y2="1239.6" stroke="#111" stroke-width="1.4"/>
<line x1="466.72" y1="1223.6" x2="466.72" y2="1240.6" stroke="#111" stroke-width="1.4"/>
<line x1="157.18" y1="1199.2" x2="182.98" y2="1199.2" stroke="#111" stroke-width="1.4"/>
<line x1="194.26" y1="1226.3" x2="220.06" y2="1226.3" stroke="#111" stroke-width="1.4"/>
<line x1="231.34" y1="1186.5" x2="257.14" y2="1186.5" stroke="#111" stroke-width="1.4"/>
<line x1="305.5" y1="1181.7" x2="331.3" y2="1181.7" stroke="#111" stroke-width="1.4"/>
<line x1="305.5" y1="1230.2" x2="331.3" y2="1230.2" stroke="#111" stroke-width="1.4"/>
<line x1="342.58" y1="1162.1" x2="368.38" y2="1162.1" stroke="#111" stroke-width="1.4"/>
<line x1="379.66" y1="1228.7" x2="405.46" y2="1228.7" stroke="#111" stroke-width="1.4"/>
<line x1="416.74" y1="1228.7" x2="442.54" y2="1228.7" stroke="#111" stroke-width="1.4"/>
<line x1="453.82" y1="1223.6" x2="479.62" y2="1223.6" stroke="#111" stroke-width="1.4"/>
<circle cx="170.08" cy="1198.6" r="5.3" fill="#000"/>
<circle cx="207.16" cy="1225.8" r="5.3" fill="#000"/>
<rect x="307.1" y="1198.9" width="22.6" height="28.1" fill="#b7b7ac" stroke="#111" stroke-width="1.4"/>
<line x1="307.1" y1="1215.3" x2="329.7" y2="1215.3" stroke="#111" stroke-width="1.4"/>
<rect x="455.42" y="1240.6" width="22.6" height="22.8" fill="#b7b7ac" stroke="#111" stroke-width="1.4"/>
<line x1="455.42" y1="1254.9" x2="478.02" y2="1254.9" stroke="#111" stroke-width="1.4"/>
<line x1="158.68" y1="1249.8" x2="181.48" y2="1249.8" stroke="#111" stroke-width="1.4"/>
<line x1="195.76" y1="1244" x2="218.56" y2="1244" stroke="#111" stroke-width="1.4"/>
<line x1="344.08" y1="1241.8" x2="366.88" y2="1241.8" stroke="#111" stroke-width="1.4"/>
<line x1="381.16" y1="1252.2" x2="403.96" y2="1252.2" stroke="#111" stroke-width="1.4"/>
<line x1="418.24" y1="1249" x2="441.04" y2="1249" stroke="#111" stroke-width="1.4"/>
<line x1="158.38" y1="1228" x2="181.78" y2="1228" stroke="#cd4a50" stroke-width="1.8"/>
<line x1="195.46" y1="1241.1" x2="218.86" y2="1241.1" stroke="#cd4a50" stroke-width="1.8"/>
<line x1="232.54" y1="1220.7" x2="255.94" y2="1220.7" stroke="#cd4a50" stroke-width="1.8"/>
<line x1="306.7" y1="1205" x2="330.1" y2="1205" stroke="#cd4a50" stroke-width="1.8"/>
<line x1="343.78" y1="1189.2" x2="367.18" y2="1189.2" stroke="#cd4a50" stroke-width="1.8"/>
<line x1="380.86" y1="1251.6" x2="404.26" y2="1251.6" stroke="#8a1f22" stroke-width="1.8"/>
<line x1="417.94" y1="1248.5" x2="441.34" y2="1248.5" stroke="#8a1f22" stroke-width="1.8"/>
<line x1="455.02" y1="1246.4" x2="478.42" y2="1246.4" stroke="#cd4a50" stroke-width="1.8"/>
<text x="169.32" y="1190.69" font-size="18" text-anchor="middle" class="st">**</text>
<text x="206.02" y="1218.29" font-size="18" text-anchor="middle" class="st">**</text>
<text x="243.07" y="1179.69" font-size="18" text-anchor="middle" class="st">**</text>
<text x="277.07" y="1179.69" font-size="18" text-anchor="middle" class="st">**</text>
<text x="317.17" y="1179.69" font-size="18" text-anchor="middle" class="st">**</text>
<text x="464.77" y="1219.69" font-size="18" text-anchor="middle" class="st">**</text>
<text x="503.37" y="1219.69" font-size="18" text-anchor="middle" class="st">**</text>
<text x="540.57" y="1219.69" font-size="18" text-anchor="middle" class="st">**</text>
<rect x="941.5" y="742.9" width="705.1" height="121.3" fill="none" stroke="#6a6a6a" stroke-width="1.2"/>
<line x1="934.3" y1="864.2" x2="941.5" y2="864.2" stroke="#6a6a6a" stroke-width="1.2"/>
<text x="926.2" y="870.1" font-size="15.6" text-anchor="end" >0</text>
<line x1="934.3" y1="839.94" x2="941.5" y2="839.94" stroke="#6a6a6a" stroke-width="1.2"/>
<text x="926.2" y="845.84" font-size="15.6" text-anchor="end" >5</text>
<line x1="934.3" y1="815.68" x2="941.5" y2="815.68" stroke="#6a6a6a" stroke-width="1.2"/>
<text x="926.2" y="821.58" font-size="15.6" text-anchor="end" ><tspan class="o">1</tspan>0</text>
<line x1="934.3" y1="791.42" x2="941.5" y2="791.42" stroke="#6a6a6a" stroke-width="1.2"/>
<text x="926.2" y="797.32" font-size="15.6" text-anchor="end" ><tspan class="o">1</tspan>5</text>
<line x1="934.3" y1="767.16" x2="941.5" y2="767.16" stroke="#6a6a6a" stroke-width="1.2"/>
<text x="926.2" y="773.06" font-size="15.6" text-anchor="end" >20</text>
<line x1="934.3" y1="742.9" x2="941.5" y2="742.9" stroke="#6a6a6a" stroke-width="1.2"/>
<text x="926.2" y="748.8" font-size="15.6" text-anchor="end" >25</text>
<line x1="976.6" y1="864.2" x2="976.6" y2="868.5" stroke="#6a6a6a" stroke-width="1.2"/>
<line x1="1011.87" y1="864.2" x2="1011.87" y2="868.5" stroke="#6a6a6a" stroke-width="1.2"/>
<line x1="1047.14" y1="864.2" x2="1047.14" y2="868.5" stroke="#6a6a6a" stroke-width="1.2"/>
<line x1="1082.41" y1="864.2" x2="1082.41" y2="868.5" stroke="#6a6a6a" stroke-width="1.2"/>
<line x1="1117.68" y1="864.2" x2="1117.68" y2="868.5" stroke="#6a6a6a" stroke-width="1.2"/>
<line x1="1152.95" y1="864.2" x2="1152.95" y2="868.5" stroke="#6a6a6a" stroke-width="1.2"/>
<line x1="1188.22" y1="864.2" x2="1188.22" y2="868.5" stroke="#6a6a6a" stroke-width="1.2"/>
<line x1="1223.49" y1="864.2" x2="1223.49" y2="868.5" stroke="#6a6a6a" stroke-width="1.2"/>
<line x1="1258.76" y1="864.2" x2="1258.76" y2="868.5" stroke="#6a6a6a" stroke-width="1.2"/>
<line x1="1294.03" y1="864.2" x2="1294.03" y2="868.5" stroke="#6a6a6a" stroke-width="1.2"/>
<line x1="1329.3" y1="864.2" x2="1329.3" y2="868.5" stroke="#6a6a6a" stroke-width="1.2"/>
<line x1="1364.57" y1="864.2" x2="1364.57" y2="868.5" stroke="#6a6a6a" stroke-width="1.2"/>
<line x1="1399.84" y1="864.2" x2="1399.84" y2="868.5" stroke="#6a6a6a" stroke-width="1.2"/>
<line x1="1435.11" y1="864.2" x2="1435.11" y2="868.5" stroke="#6a6a6a" stroke-width="1.2"/>
<line x1="1470.38" y1="864.2" x2="1470.38" y2="868.5" stroke="#6a6a6a" stroke-width="1.2"/>
<line x1="1505.65" y1="864.2" x2="1505.65" y2="868.5" stroke="#6a6a6a" stroke-width="1.2"/>
<line x1="1540.92" y1="864.2" x2="1540.92" y2="868.5" stroke="#6a6a6a" stroke-width="1.2"/>
<line x1="1576.19" y1="864.2" x2="1576.19" y2="868.5" stroke="#6a6a6a" stroke-width="1.2"/>
<line x1="1611.46" y1="864.2" x2="1611.46" y2="868.5" stroke="#6a6a6a" stroke-width="1.2"/>
<path d="M976.6,786.57 L1399.84,786.57 L1399.84,825.38 L1611.46,825.38" fill="none" stroke="#111" stroke-width="1.5"/>
<text transform="translate(863.4,803.8) rotate(-90)" font-size="19.5" text-anchor="middle" textLength="129.5" lengthAdjust="spacingAndGlyphs">no. of samples</text>
<rect x="941.7" y="886.6" width="704.7" height="425.9" fill="none" stroke="#2a2a2a" stroke-width="1.7"/>
<line x1="934.5" y1="886.6" x2="941.7" y2="886.6" stroke="#2a2a2a" stroke-width="1.5"/>
<text x="891.2" y="892.7" font-size="15.6" text-anchor="start" ><tspan class="o">1</tspan>e+8</text>
<line x1="934.5" y1="929.19" x2="941.7" y2="929.19" stroke="#2a2a2a" stroke-width="1.5"/>
<text x="891.2" y="935.29" font-size="15.6" text-anchor="start" ><tspan class="o">1</tspan>e+7</text>
<line x1="934.5" y1="971.78" x2="941.7" y2="971.78" stroke="#2a2a2a" stroke-width="1.5"/>
<text x="891.2" y="977.88" font-size="15.6" text-anchor="start" ><tspan class="o">1</tspan>e+6</text>
<line x1="934.5" y1="1014.37" x2="941.7" y2="1014.37" stroke="#2a2a2a" stroke-width="1.5"/>
<text x="891.2" y="1020.47" font-size="15.6" text-anchor="start" ><tspan class="o">1</tspan>e+5</text>
<line x1="934.5" y1="1056.96" x2="941.7" y2="1056.96" stroke="#2a2a2a" stroke-width="1.5"/>
<text x="891.2" y="1063.06" font-size="15.6" text-anchor="start" ><tspan class="o">1</tspan>e+4</text>
<line x1="934.5" y1="1099.55" x2="941.7" y2="1099.55" stroke="#2a2a2a" stroke-width="1.5"/>
<text x="891.2" y="1105.65" font-size="15.6" text-anchor="start" ><tspan class="o">1</tspan>e+3</text>
<line x1="934.5" y1="1142.14" x2="941.7" y2="1142.14" stroke="#2a2a2a" stroke-width="1.5"/>
<text x="891.2" y="1148.24" font-size="15.6" text-anchor="start" ><tspan class="o">1</tspan>e+2</text>
<line x1="934.5" y1="1184.73" x2="941.7" y2="1184.73" stroke="#2a2a2a" stroke-width="1.5"/>
<text x="891.2" y="1190.83" font-size="15.6" text-anchor="start" ><tspan class="o">1</tspan>e+<tspan class="o">1</tspan></text>
<line x1="934.5" y1="1227.32" x2="941.7" y2="1227.32" stroke="#2a2a2a" stroke-width="1.5"/>
<text x="891.2" y="1233.42" font-size="15.6" text-anchor="start" ><tspan class="o">1</tspan>e+0</text>
<line x1="934.5" y1="1269.91" x2="941.7" y2="1269.91" stroke="#2a2a2a" stroke-width="1.5"/>
<text x="891.2" y="1276.01" font-size="15.6" text-anchor="start" ><tspan class="o">1</tspan>e-<tspan class="o">1</tspan></text>
<line x1="934.5" y1="1312.5" x2="941.7" y2="1312.5" stroke="#2a2a2a" stroke-width="1.5"/>
<text x="891.2" y="1318.6" font-size="15.6" text-anchor="start" ><tspan class="o">1</tspan>e-2</text>
<line x1="978.7" y1="1312.5" x2="978.7" y2="1317.8" stroke="#2a2a2a" stroke-width="1.5"/>
<text x="978.7" y="1340.5" font-size="15.6" text-anchor="middle" >0</text>
<line x1="1015.8" y1="1312.5" x2="1015.8" y2="1317.8" stroke="#2a2a2a" stroke-width="1.5"/>
<text x="1015.8" y="1340.5" font-size="15.6" text-anchor="middle" ><tspan class="o">1</tspan></text>
<line x1="1052.9" y1="1312.5" x2="1052.9" y2="1317.8" stroke="#2a2a2a" stroke-width="1.5"/>
<text x="1052.9" y="1340.5" font-size="15.6" text-anchor="middle" >2</text>
<line x1="1090" y1="1312.5" x2="1090" y2="1317.8" stroke="#2a2a2a" stroke-width="1.5"/>
<text x="1090" y="1340.5" font-size="15.6" text-anchor="middle" >3</text>
<line x1="1127.1" y1="1312.5" x2="1127.1" y2="1317.8" stroke="#2a2a2a" stroke-width="1.5"/>
<text x="1127.1" y="1340.5" font-size="15.6" text-anchor="middle" >4</text>
<line x1="1164.2" y1="1312.5" x2="1164.2" y2="1317.8" stroke="#2a2a2a" stroke-width="1.5"/>
<text x="1164.2" y="1340.5" font-size="15.6" text-anchor="middle" >5</text>
<line x1="1201.3" y1="1312.5" x2="1201.3" y2="1317.8" stroke="#2a2a2a" stroke-width="1.5"/>
<text x="1201.3" y="1340.5" font-size="15.6" text-anchor="middle" >6</text>
<line x1="1238.4" y1="1312.5" x2="1238.4" y2="1317.8" stroke="#2a2a2a" stroke-width="1.5"/>
<text x="1238.4" y="1340.5" font-size="15.6" text-anchor="middle" >7</text>
<line x1="1275.5" y1="1312.5" x2="1275.5" y2="1317.8" stroke="#2a2a2a" stroke-width="1.5"/>
<text x="1275.5" y="1340.5" font-size="15.6" text-anchor="middle" ><tspan class="o">1</tspan>0</text>
<line x1="1312.6" y1="1312.5" x2="1312.6" y2="1317.8" stroke="#2a2a2a" stroke-width="1.5"/>
<text x="1312.6" y="1340.5" font-size="15.6" text-anchor="middle" ><tspan class="o">1</tspan>3</text>
<line x1="1349.7" y1="1312.5" x2="1349.7" y2="1317.8" stroke="#2a2a2a" stroke-width="1.5"/>
<text x="1349.7" y="1340.5" font-size="15.6" text-anchor="middle" ><tspan class="o">1</tspan>7</text>
<line x1="1386.8" y1="1312.5" x2="1386.8" y2="1317.8" stroke="#2a2a2a" stroke-width="1.5"/>
<text x="1386.8" y="1340.5" font-size="15.6" text-anchor="middle" ><tspan class="o">1</tspan>8</text>
<line x1="1423.9" y1="1312.5" x2="1423.9" y2="1317.8" stroke="#2a2a2a" stroke-width="1.5"/>
<text x="1423.9" y="1340.5" font-size="15.6" text-anchor="middle" >20</text>
<line x1="1461" y1="1312.5" x2="1461" y2="1317.8" stroke="#2a2a2a" stroke-width="1.5"/>
<text x="1461" y="1340.5" font-size="15.6" text-anchor="middle" >2<tspan class="o">1</tspan></text>
<line x1="1498.1" y1="1312.5" x2="1498.1" y2="1317.8" stroke="#2a2a2a" stroke-width="1.5"/>
<text x="1498.1" y="1340.5" font-size="15.6" text-anchor="middle" >22</text>
<line x1="1535.2" y1="1312.5" x2="1535.2" y2="1317.8" stroke="#2a2a2a" stroke-width="1.5"/>
<text x="1535.2" y="1340.5" font-size="15.6" text-anchor="middle" >24</text>
<line x1="1572.3" y1="1312.5" x2="1572.3" y2="1317.8" stroke="#2a2a2a" stroke-width="1.5"/>
<text x="1572.3" y="1340.5" font-size="15.6" text-anchor="middle" >25</text>
<line x1="1609.4" y1="1312.5" x2="1609.4" y2="1317.8" stroke="#2a2a2a" stroke-width="1.5"/>
<text x="1609.4" y="1340.5" font-size="15.6" text-anchor="middle" >27</text>
<text transform="translate(865,1099.6) rotate(-90)" font-size="19.5" text-anchor="middle" textLength="160.5" lengthAdjust="spacingAndGlyphs">Genome copies/µl</text>
<text x="1199" y="1382.4" font-size="19.5" textLength="189.8" lengthAdjust="spacingAndGlyphs">Days post inoculation</text>
<rect x="1078.6" y="1402.7" width="414.1" height="53.4" fill="none" stroke="#222" stroke-width="1.4"/>
<rect x="1092.2" y="1423.5" width="39" height="11.8" fill="#b7b7ac" stroke="#1a1a1a" stroke-width="1.3"/>
<text x="1140" y="1434.5" font-size="18" textLength="283.5" lengthAdjust="spacingAndGlyphs">Group B2 - Field material MDA neg</text>
<line x1="1015.8" y1="947.4" x2="1015.8" y2="988.4" stroke="#111" stroke-width="1.4"/>
<line x1="1015.8" y1="1076.3" x2="1015.8" y2="1137" stroke="#111" stroke-width="1.4"/>
<line x1="1052.9" y1="926.5" x2="1052.9" y2="980.8" stroke="#111" stroke-width="1.4"/>
<line x1="1052.9" y1="1081.3" x2="1052.9" y2="1159.5" stroke="#111" stroke-width="1.4"/>
<line x1="1090" y1="1032.5" x2="1090" y2="1096.2" stroke="#111" stroke-width="1.4"/>
<line x1="1090" y1="1208.9" x2="1090" y2="1284.8" stroke="#111" stroke-width="1.4"/>
<line x1="1127.1" y1="1055.2" x2="1127.1" y2="1171.7" stroke="#111" stroke-width="1.4"/>
<line x1="1164.2" y1="1023.5" x2="1164.2" y2="1086.7" stroke="#111" stroke-width="1.4"/>
<line x1="1164.2" y1="1214.5" x2="1164.2" y2="1224.2" stroke="#111" stroke-width="1.4"/>
<line x1="1201.3" y1="1098.8" x2="1201.3" y2="1200.6" stroke="#111" stroke-width="1.4"/>
<line x1="1238.4" y1="1140.7" x2="1238.4" y2="1165" stroke="#111" stroke-width="1.4"/>
<line x1="1275.5" y1="1085.1" x2="1275.5" y2="1113" stroke="#111" stroke-width="1.4"/>
<line x1="1275.5" y1="1216.4" x2="1275.5" y2="1248.6" stroke="#111" stroke-width="1.4"/>
<line x1="1312.6" y1="1008.6" x2="1312.6" y2="1112.4" stroke="#111" stroke-width="1.4"/>
<line x1="1349.7" y1="1052.8" x2="1349.7" y2="1152.4" stroke="#111" stroke-width="1.4"/>
<line x1="1386.8" y1="1097.3" x2="1386.8" y2="1138.5" stroke="#111" stroke-width="1.4"/>
<line x1="1002.9" y1="947.4" x2="1028.7" y2="947.4" stroke="#111" stroke-width="1.4"/>
<line x1="1002.9" y1="1137" x2="1028.7" y2="1137" stroke="#111" stroke-width="1.4"/>
<line x1="1040" y1="926.5" x2="1065.8" y2="926.5" stroke="#111" stroke-width="1.4"/>
<line x1="1040" y1="1159.5" x2="1065.8" y2="1159.5" stroke="#111" stroke-width="1.4"/>
<line x1="1077.1" y1="1032.5" x2="1102.9" y2="1032.5" stroke="#111" stroke-width="1.4"/>
<line x1="1077.1" y1="1284.8" x2="1102.9" y2="1284.8" stroke="#111" stroke-width="1.4"/>
<line x1="1114.2" y1="1055.2" x2="1140" y2="1055.2" stroke="#111" stroke-width="1.4"/>
<line x1="1151.3" y1="1023.5" x2="1177.1" y2="1023.5" stroke="#111" stroke-width="1.4"/>
<line x1="1151.3" y1="1224.2" x2="1177.1" y2="1224.2" stroke="#111" stroke-width="1.4"/>
<line x1="1188.4" y1="1098.8" x2="1214.2" y2="1098.8" stroke="#111" stroke-width="1.4"/>
<line x1="1225.5" y1="1140.7" x2="1251.3" y2="1140.7" stroke="#111" stroke-width="1.4"/>
<line x1="1262.6" y1="1085.1" x2="1288.4" y2="1085.1" stroke="#111" stroke-width="1.4"/>
<line x1="1262.6" y1="1248.6" x2="1288.4" y2="1248.6" stroke="#111" stroke-width="1.4"/>
<line x1="1299.7" y1="1008.6" x2="1325.5" y2="1008.6" stroke="#111" stroke-width="1.4"/>
<line x1="1336.8" y1="1052.8" x2="1362.6" y2="1052.8" stroke="#111" stroke-width="1.4"/>
<line x1="1373.9" y1="1097.3" x2="1399.7" y2="1097.3" stroke="#111" stroke-width="1.4"/>
<circle cx="1015.8" cy="942.3" r="5.3" fill="#000"/>
<circle cx="1015.8" cy="1162.6" r="5.3" fill="#000"/>
<circle cx="1052.9" cy="918.1" r="5.3" fill="#000"/>
<circle cx="1052.9" cy="1201.2" r="5.3" fill="#000"/>
<circle cx="1090" cy="1016.3" r="5.3" fill="#000"/>
<circle cx="1127.1" cy="1032.8" r="5.3" fill="#000"/>
<circle cx="1164.2" cy="1006.2" r="5.3" fill="#000"/>
<circle cx="1164.2" cy="1226" r="5.3" fill="#000"/>
<circle cx="1201.3" cy="1078.2" r="5.3" fill="#000"/>
<circle cx="1238.4" cy="1139.9" r="5.3" fill="#000"/>
<circle cx="1275.5" cy="1070.5" r="5.3" fill="#000"/>
<circle cx="1275.5" cy="1249.9" r="5.3" fill="#000"/>
<circle cx="1312.6" cy="988.4" r="5.3" fill="#000"/>
<circle cx="1349.7" cy="1030.7" r="5.3" fill="#000"/>
<circle cx="1386.8" cy="1088.9" r="5.3" fill="#000"/>
<rect x="1004.5" y="988.4" width="22.6" height="87.9" fill="#b7b7ac" stroke="#111" stroke-width="1.4"/>
<line x1="1004.5" y1="1011.6" x2="1027.1" y2="1011.6" stroke="#111" stroke-width="1.4"/>
<rect x="1041.6" y="980.8" width="22.6" height="100.5" fill="#b7b7ac" stroke="#111" stroke-width="1.4"/>
<line x1="1041.6" y1="1043.8" x2="1064.2" y2="1043.8" stroke="#111" stroke-width="1.4"/>
<rect x="1078.7" y="1096.2" width="22.6" height="112.7" fill="#b7b7ac" stroke="#111" stroke-width="1.4"/>
<line x1="1078.7" y1="1136.7" x2="1101.3" y2="1136.7" stroke="#111" stroke-width="1.4"/>
<rect x="1152.9" y="1086.7" width="22.6" height="127.8" fill="#b7b7ac" stroke="#111" stroke-width="1.4"/>
<line x1="1152.9" y1="1172.6" x2="1175.5" y2="1172.6" stroke="#111" stroke-width="1.4"/>
<rect x="1227.1" y="1165" width="22.6" height="120.4" fill="#b7b7ac" stroke="#111" stroke-width="1.4"/>
<line x1="1227.1" y1="1232" x2="1249.7" y2="1232" stroke="#111" stroke-width="1.4"/>
<rect x="1264.2" y="1113" width="22.6" height="103.4" fill="#b7b7ac" stroke="#111" stroke-width="1.4"/>
<line x1="1264.2" y1="1164" x2="1286.8" y2="1164" stroke="#111" stroke-width="1.4"/>
<rect x="1301.3" y="1112.4" width="22.6" height="94.4" fill="#b7b7ac" stroke="#111" stroke-width="1.4"/>
<line x1="1301.3" y1="1170.8" x2="1323.9" y2="1170.8" stroke="#111" stroke-width="1.4"/>
<rect x="1338.4" y="1152.4" width="22.6" height="128.1" fill="#b7b7ac" stroke="#111" stroke-width="1.4"/>
<line x1="1338.4" y1="1230.2" x2="1361" y2="1230.2" stroke="#111" stroke-width="1.4"/>
<rect x="1375.5" y="1138.5" width="22.6" height="148.5" fill="#b7b7ac" stroke="#111" stroke-width="1.4"/>
<line x1="1375.5" y1="1230.2" x2="1398.1" y2="1230.2" stroke="#111" stroke-width="1.4"/>
<rect x="1412.6" y="1126.7" width="22.6" height="133.4" fill="#b7b7ac" stroke="#111" stroke-width="1.4"/>
<line x1="1412.6" y1="1151.3" x2="1435.2" y2="1151.3" stroke="#111" stroke-width="1.4"/>
<rect x="1486.8" y="1102.2" width="22.6" height="134" fill="#b7b7ac" stroke="#111" stroke-width="1.4"/>
<line x1="1486.8" y1="1177.8" x2="1509.4" y2="1177.8" stroke="#111" stroke-width="1.4"/>
<rect x="1523.9" y="1127.9" width="22.6" height="129.7" fill="#b7b7ac" stroke="#111" stroke-width="1.4"/>
<line x1="1523.9" y1="1177" x2="1546.5" y2="1177" stroke="#111" stroke-width="1.4"/>
<line x1="1115.7" y1="1242" x2="1138.5" y2="1242" stroke="#111" stroke-width="1.4"/>
<line x1="1189.9" y1="1275.6" x2="1212.7" y2="1275.6" stroke="#111" stroke-width="1.4"/>
<line x1="1449.6" y1="1158.7" x2="1472.4" y2="1158.7" stroke="#111" stroke-width="1.4"/>
<line x1="1560.9" y1="1205.8" x2="1583.7" y2="1205.8" stroke="#111" stroke-width="1.4"/>
<line x1="1004.1" y1="980.4" x2="1027.5" y2="980.4" stroke="#cd4a50" stroke-width="1.8"/>
<line x1="1041.2" y1="960.5" x2="1064.6" y2="960.5" stroke="#cd4a50" stroke-width="1.8"/>
<line x1="1078.3" y1="1064.1" x2="1101.7" y2="1064.1" stroke="#cd4a50" stroke-width="1.8"/>
<line x1="1115.4" y1="1084.3" x2="1138.8" y2="1084.3" stroke="#cd4a50" stroke-width="1.8"/>
<line x1="1152.5" y1="1054.1" x2="1175.9" y2="1054.1" stroke="#cd4a50" stroke-width="1.8"/>
<line x1="1189.6" y1="1128.7" x2="1213" y2="1128.7" stroke="#cd4a50" stroke-width="1.8"/>
<line x1="1226.7" y1="1171" x2="1250.1" y2="1171" stroke="#cd4a50" stroke-width="1.8"/>
<line x1="1263.8" y1="1113" x2="1287.2" y2="1113" stroke="#a01c1c" stroke-width="1.8"/>
<line x1="1300.9" y1="1038.6" x2="1324.3" y2="1038.6" stroke="#cd4a50" stroke-width="1.8"/>
<line x1="1338" y1="1081.9" x2="1361.4" y2="1081.9" stroke="#cd4a50" stroke-width="1.8"/>
<line x1="1375.1" y1="1129.6" x2="1398.5" y2="1129.6" stroke="#cd4a50" stroke-width="1.8"/>
<line x1="1412.2" y1="1130.4" x2="1435.6" y2="1130.4" stroke="#cd4a50" stroke-width="1.8"/>
<line x1="1449.3" y1="1134.2" x2="1472.7" y2="1134.2" stroke="#cd4a50" stroke-width="1.8"/>
<line x1="1486.4" y1="1064" x2="1509.8" y2="1064" stroke="#cd4a50" stroke-width="1.8"/>
<line x1="1523.5" y1="1097.1" x2="1546.9" y2="1097.1" stroke="#cd4a50" stroke-width="1.8"/>
<line x1="1560.6" y1="1179.8" x2="1584" y2="1179.8" stroke="#cd4a50" stroke-width="1.8"/>
<line x1="1597.7" y1="1274.8" x2="1621.1" y2="1274.8" stroke="#cd4a50" stroke-width="1.8"/>
<text x="1013.77" y="932.19" font-size="18" text-anchor="middle" class="st">**</text>
<text x="1052.87" y="910.59" font-size="18" text-anchor="middle" class="st">**</text>
<text x="1089.77" y="1007.59" font-size="18" text-anchor="middle" class="st">**</text>
<text x="1124.87" y="1023.99" font-size="18" text-anchor="middle" class="st">**</text>
<text x="1161.97" y="997.69" font-size="18" text-anchor="middle" class="st">**</text>
<text x="1310.77" y="979.29" font-size="18" text-anchor="middle" class="st">**</text>
<text x="1348.57" y="1020.99" font-size="18" text-anchor="middle" class="st">**</text>
<text x="1385.27" y="1080.59" font-size="18" text-anchor="middle" class="st">**</text>
</svg>
</body></html>
